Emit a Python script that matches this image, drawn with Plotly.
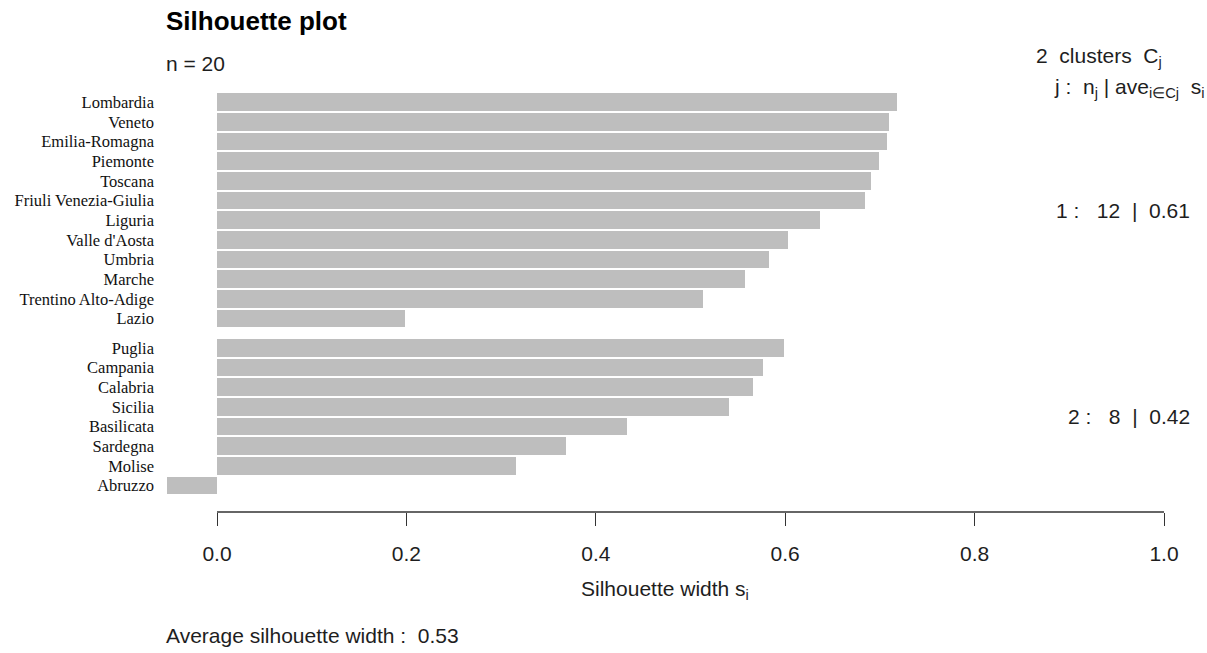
import plotly.graph_objects as go

# Silhouette widths of the 20 Italian regions, ordered within each cluster
regions = [
    "Lombardia", "Veneto", "Emilia-Romagna", "Piemonte", "Toscana",
    "Friuli Venezia-Giulia", "Liguria", "Valle d'Aosta", "Umbria", "Marche",
    "Trentino Alto-Adige", "Lazio",
    "Puglia", "Campania", "Calabria", "Sicilia", "Basilicata", "Sardegna",
    "Molise", "Abruzzo",
]
cluster = [1] * 12 + [2] * 8
sil_width = [
    0.718, 0.710, 0.708, 0.699, 0.691, 0.684, 0.637, 0.603, 0.583, 0.558,
    0.513, 0.199,
    0.599, 0.577, 0.566, 0.541, 0.433, 0.368, 0.316, -0.053,
]
x_ticks = [0.0, 0.2, 0.4, 0.6, 0.8, 1.0]
x_tick_labels = ["0.0", "0.2", "0.4", "0.6", "0.8", "1.0"]
cluster_sizes = [12, 8]
cluster_means = ["0.61", "0.42"]
avg_width = "0.53"

NB = "\u00a0"

# half-row gap between consecutive clusters
pos = []
gap = 0.0
for i, c in enumerate(cluster):
    if i > 0 and c != cluster[i - 1]:
        gap += 0.5
    pos.append(i + gap)

W, H = 1207, 653
ML, MR, MT, MB = 158, 3, 80, 141
PW, PH = W - ML - MR, H - MT - MB


def px(x, y):
    """pixel position -> paper coordinates"""
    return (x - ML) / PW, (H - MB - y) / PH


SANS = "Liberation Sans, Arial, sans-serif"
SERIF = "Liberation Serif, Times New Roman, serif"
INK = "#1e1e1e"

fig = go.Figure(
    go.Bar(
        x=sil_width,
        y=pos,
        orientation="h",
        width=0.9,
        marker=dict(color="#BEBEBE", line=dict(width=0)),
        hovertext=regions,
    )
)

x0 = (ML - 217) / 947.0
x1 = x0 + PW / 947.0
fig.update_xaxes(
    range=[x0, x1],
    tickvals=x_ticks,
    ticktext=x_tick_labels,
    ticks="outside",
    ticklen=13,
    tickwidth=1.3,
    tickcolor="#333333",
    showline=False,
    showgrid=False,
    zeroline=False,
    ticklabelstandoff=10,
    tickfont=dict(family=SANS, size=21, color=INK),
)
fig.update_yaxes(
    range=[20.85, -1.129],
    tickvals=pos,
    ticktext=regions,
    ticks="",
    showline=False,
    showgrid=False,
    zeroline=False,
    ticklabelstandoff=3,
    tickfont=dict(family=SERIF, size=16.5, color="#111111"),
)

# axis line spanning 0..1 only
fig.add_shape(
    type="line", xref="x", yref="paper", x0=0, x1=1, y0=0, y1=0,
    line=dict(color="#333333", width=1.3),
)


def note(text, x, y, xanchor, size=21, bold=False, family=SANS, color=INK):
    px_x, px_y = px(x, y)
    fig.add_annotation(
        text=f"<b>{text}</b>" if bold else text,
        x=px_x, y=px_y, xref="paper", yref="paper",
        xanchor=xanchor, yanchor="middle", showarrow=False,
        font=dict(family=family, size=size, color=color),
    )


note("Silhouette plot", 164, 21, "left", size=26, bold=True, color="#000000")
note("n = 20", 164, 63, "left")
note(f"{len(cluster_sizes)}{NB*2}clusters{NB*2}C<sub>j</sub>", 1034, 57, "left")
note(f"j :{NB*2}n<sub>j</sub>{NB}|{NB}ave<sub>i\u2208Cj</sub>{NB*2}s<sub>i</sub>", 1052, 88, "left")

# per-cluster summary, centred on each cluster's rows
for k, (n_k, m_k) in enumerate(zip(cluster_sizes, cluster_means), start=1):
    rows = [p for p, c in zip(pos, cluster) if c == k]
    y_mid = 102.2 + (sum(rows) / len(rows)) * 19.655
    note(f"{k} :{NB*3}{n_k}{NB*2}|{NB*2}{m_k}", 1192, y_mid, "right")

note("Silhouette width s<sub>i</sub>", 665, 590, "center")
note(f"Average silhouette width :{NB*2}{avg_width}", 164, 635, "left")

fig.update_layout(
    width=W,
    height=H,
    margin=dict(l=ML, r=MR, t=MT, b=MB),
    plot_bgcolor="white",
    paper_bgcolor="white",
    showlegend=False,
    bargap=0,
)

fig.write_html("out.html")
